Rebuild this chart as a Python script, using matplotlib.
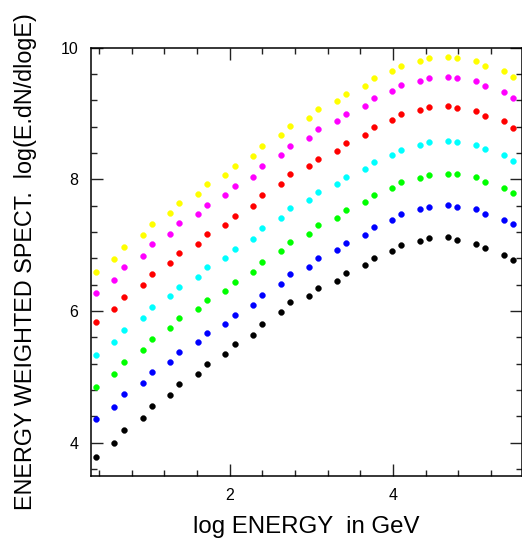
import matplotlib
matplotlib.use("Agg")
import matplotlib.pyplot as plt
from matplotlib.ticker import MultipleLocator

plt.rcParams['font.family'] = ['Liberation Sans', 'DejaVu Sans']

log_energy = [0.360, 0.584, 0.703, 0.931, 1.042, 1.266, 1.379, 1.605, 1.718, 1.947,
              2.058, 2.285, 2.400, 2.628, 2.743, 2.971, 3.086, 3.314, 3.424, 3.653,
              3.764, 3.993, 4.103, 4.331, 4.446, 4.673, 4.788, 5.016, 5.131, 5.359, 5.469]

spec_black = [3.775, 3.988, 4.186, 4.373, 4.550, 4.727, 4.884, 5.041, 5.193, 5.340,
              5.492, 5.638, 5.806, 5.978, 6.130, 6.231, 6.343, 6.454, 6.576, 6.692,
              6.809, 6.915, 6.996, 7.057, 7.113, 7.128, 7.072, 7.017, 6.961, 6.850, 6.769]
spec_blue = [4.353, 4.544, 4.733, 4.909, 5.071, 5.228, 5.380, 5.523, 5.664, 5.801,
             5.942, 6.090, 6.237, 6.409, 6.556, 6.672, 6.799, 6.920, 7.037, 7.158,
             7.275, 7.376, 7.473, 7.544, 7.584, 7.604, 7.584, 7.544, 7.478, 7.386, 7.316]
spec_green = [4.848, 5.041, 5.228, 5.410, 5.573, 5.736, 5.888, 6.029, 6.170, 6.307,
              6.444, 6.591, 6.743, 6.910, 7.052, 7.174, 7.300, 7.417, 7.533, 7.650,
              7.761, 7.868, 7.954, 8.025, 8.065, 8.086, 8.076, 8.040, 7.964, 7.873, 7.797]
spec_cyan = [5.334, 5.527, 5.714, 5.892, 6.059, 6.222, 6.368, 6.520, 6.663, 6.804,
             6.945, 7.088, 7.260, 7.417, 7.564, 7.680, 7.802, 7.924, 8.035, 8.152,
             8.263, 8.364, 8.450, 8.521, 8.562, 8.582, 8.567, 8.526, 8.460, 8.369, 8.278]
spec_red = [5.836, 6.029, 6.216, 6.398, 6.565, 6.723, 6.875, 7.021, 7.169, 7.306,
            7.447, 7.599, 7.756, 7.929, 8.076, 8.197, 8.314, 8.435, 8.552, 8.673,
            8.790, 8.901, 8.987, 9.058, 9.099, 9.109, 9.089, 9.038, 8.967, 8.881, 8.775]
spec_magenta = [6.277, 6.474, 6.663, 6.839, 7.012, 7.173, 7.331, 7.471, 7.614, 7.757,
                7.898, 8.040, 8.197, 8.364, 8.511, 8.633, 8.759, 8.886, 8.997, 9.119,
                9.236, 9.347, 9.428, 9.494, 9.540, 9.555, 9.540, 9.494, 9.423, 9.327, 9.241]
spec_yellow = [6.596, 6.789, 6.976, 7.154, 7.325, 7.483, 7.635, 7.781, 7.924, 8.061,
               8.207, 8.349, 8.501, 8.668, 8.815, 8.937, 9.063, 9.185, 9.301, 9.418,
               9.534, 9.646, 9.727, 9.793, 9.843, 9.864, 9.843, 9.798, 9.727, 9.641, 9.550]

series = [
    (spec_black, '#000000'),
    (spec_blue, '#0000ff'),
    (spec_green, '#00ff00'),
    (spec_cyan, '#00ffff'),
    (spec_red, '#ff0000'),
    (spec_magenta, '#ff00ff'),
    (spec_yellow, '#ffff00'),
]

W, H = 522, 541
fig = plt.figure(figsize=(W / 100, H / 100), dpi=100)
ax = fig.add_axes([91 / W, (H - 475.5) / H, 431 / W, (475.5 - 47.7) / H])

for vals, col in series:
    ax.plot(log_energy, vals, linestyle='none', marker='o', ms=4.2,
            mfc=col, mec=col, mew=0.3, clip_on=False)

ax.set_xlim(0.3, 5.58)
ax.set_ylim(3.5, 10)
ax.xaxis.set_major_locator(MultipleLocator(2))
ax.xaxis.set_minor_locator(MultipleLocator(0.4))
ax.yaxis.set_major_locator(MultipleLocator(2))
ax.yaxis.set_minor_locator(MultipleLocator(0.4))

ax.tick_params(which='both', direction='in', top=True, right=True, width=1.0, color='#222222')
ax.tick_params(which='major', length=8.6, labelsize=11.5, pad=9)
ax.tick_params(which='minor', length=4.3)
for s in ax.spines.values():
    s.set_linewidth(1.1)

ax.set_xlabel('log ENERGY  in GeV', fontsize=17.3, labelpad=9.5)
ax.set_ylabel('ENERGY WEIGHTED SPECT.  log(E.dN/dlogE)', fontsize=16.8, labelpad=17)

fig.savefig('out.png', dpi=100)
